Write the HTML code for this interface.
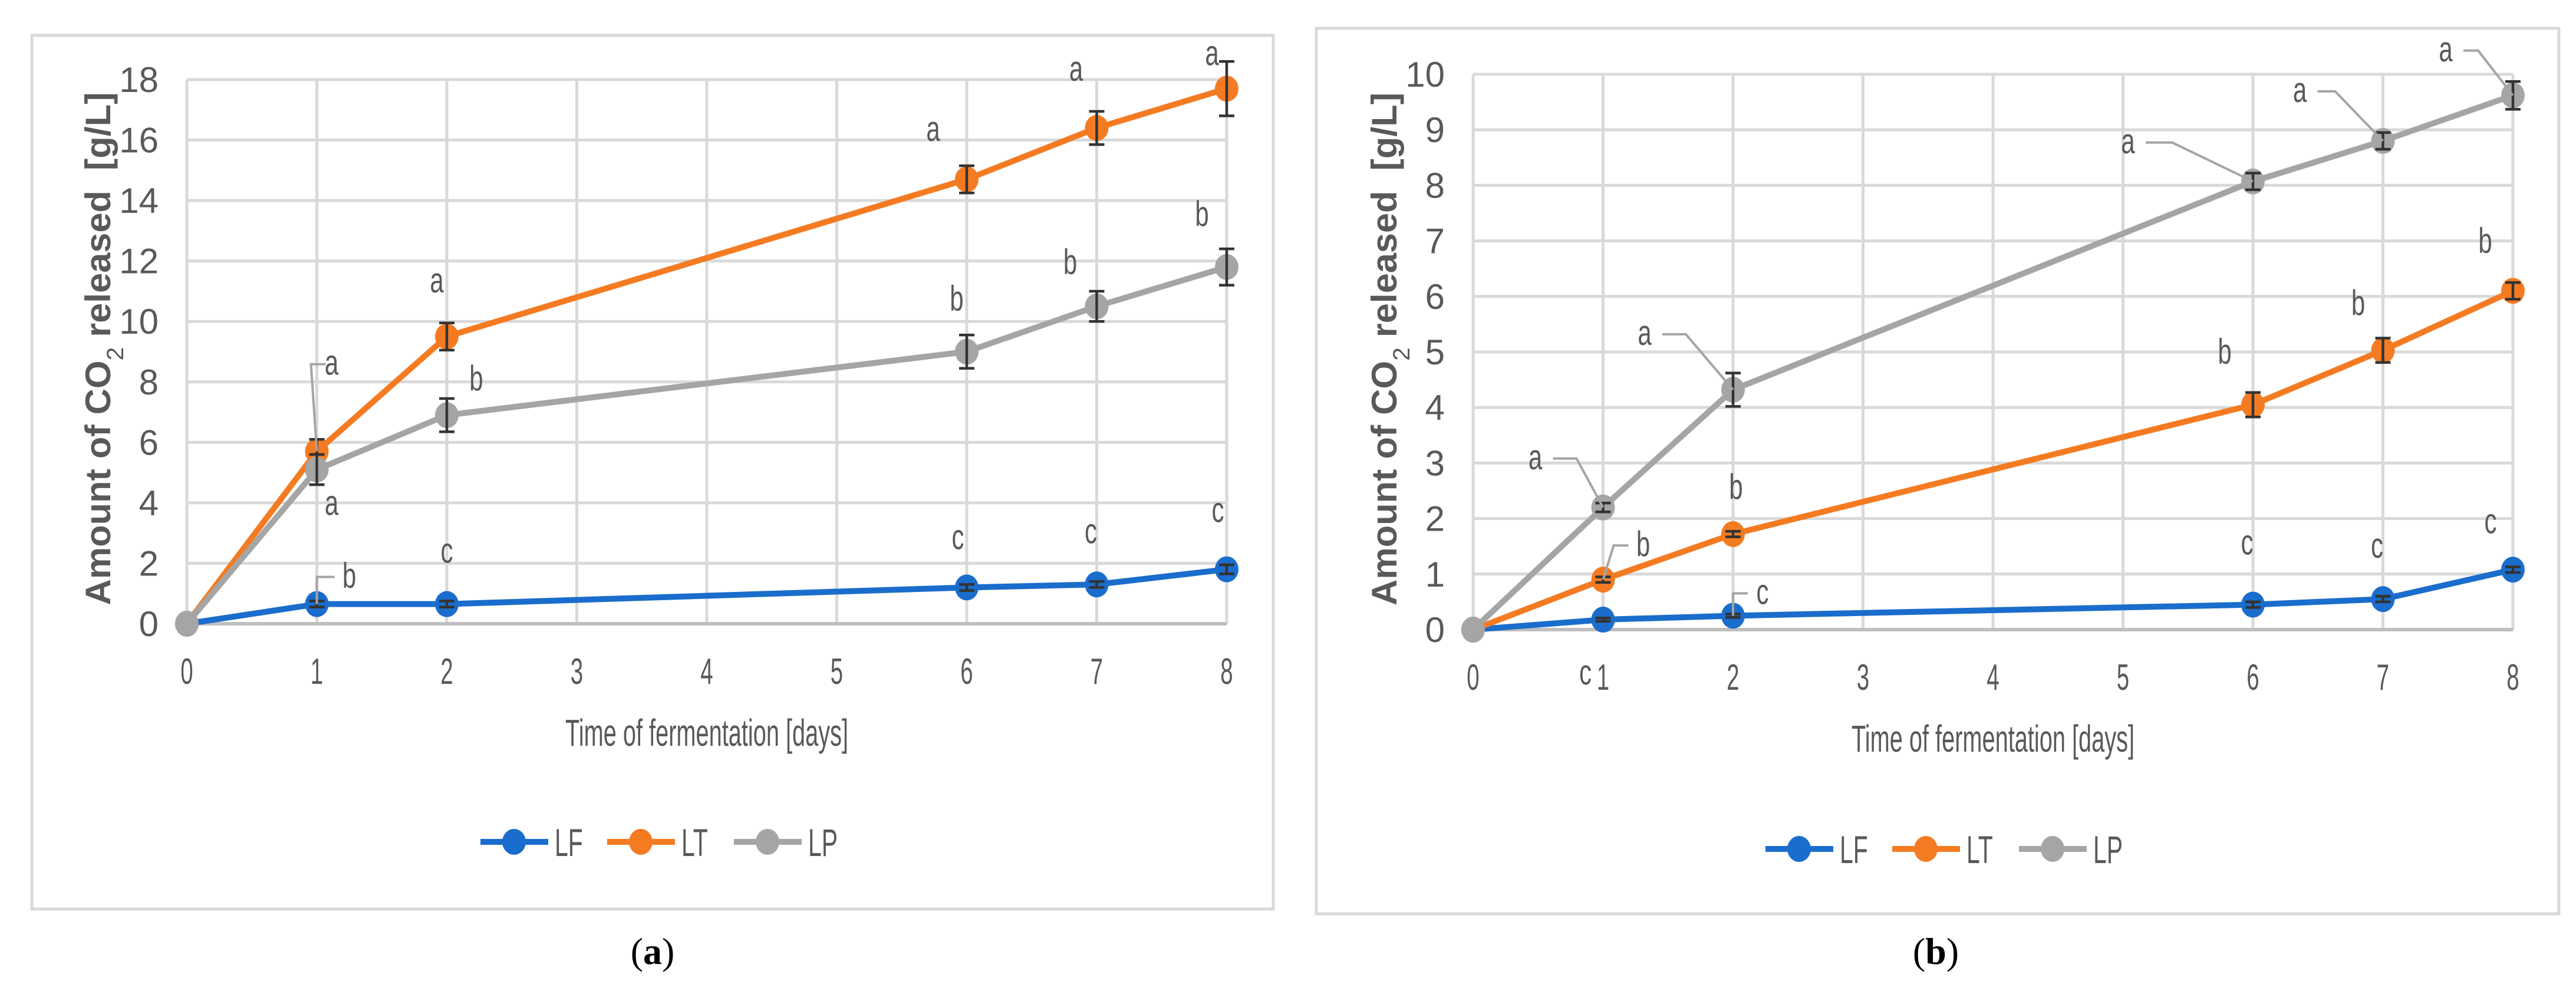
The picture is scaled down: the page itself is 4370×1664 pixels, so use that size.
<!DOCTYPE html>
<html><head><meta charset="utf-8"><style>
html,body{margin:0;padding:0;background:#fff;}
svg{display:block;}
text{font-family:"Liberation Sans",sans-serif;fill:#595959;}
</style></head><body>
<svg id="fig" width="4370" height="1664" viewBox="0 0 4370 1664" xmlns="http://www.w3.org/2000/svg">
<rect x="54" y="60" width="2106" height="1482" fill="#fff" stroke="#d9d9d9" stroke-width="5"/>
<rect x="2233" y="48" width="2108" height="1502" fill="#fff" stroke="#d9d9d9" stroke-width="5"/>
<text x="1107" y="1635" font-size="64" text-anchor="middle" style="fill:#000;font-family:'Liberation Serif',serif">(<tspan font-weight="bold">a</tspan>)</text>
<text x="3284" y="1635" font-size="64" text-anchor="middle" style="fill:#000;font-family:'Liberation Serif',serif">(<tspan font-weight="bold">b</tspan>)</text>
<g id="ga"></g>
<g id="gb"></g>
</svg>
<script>
const days = [0,1,2,6,7,8];
const xTicks = [0,1,2,3,4,5,6,7,8];
const seriesNames = ["LF","LT","LP"];
const yTicksA = [0,2,4,6,8,10,12,14,16,18];
const yTicksB = [0,1,2,3,4,5,6,7,8,9,10];
const aLF = [0,0.65,0.65,1.2,1.3,1.8];
const aLT = [0,5.7,9.5,14.7,16.4,17.7];
const aLP = [0,5.1,6.9,9.0,10.5,11.8];
const aErrLF = [0,0.1,0.1,0.1,0.1,0.15];
const aErrLT = [0,0.4,0.45,0.45,0.55,0.9];
const aErrLP = [0,0.5,0.55,0.55,0.5,0.6];
const bLF = [0,0.18,0.25,0.45,0.55,1.08];
const bLT = [0,0.9,1.72,4.05,5.03,6.1];
const bLP = [0,2.2,4.32,8.07,8.8,9.62];
const bErrLF = [0,0.03,0.03,0.05,0.05,0.05];
const bErrLT = [0,0.05,0.05,0.22,0.22,0.15];
const bErrLP = [0,0.08,0.3,0.15,0.15,0.25];
const aLettersLF = ["","b","c","c","c","c"];
const aLettersLT = ["","a","a","a","a","a"];
const aLettersLP = ["","a","b","b","b","b"];
const bLettersLF = ["","c","c","c","c","c"];
const bLettersLT = ["","b","b","b","b","b"];
const bLettersLP = ["","a","a","a","a","a"];
const colors = ["#1a6dcc","#f47b22","#a5a5a5"];
const NS = "http://www.w3.org/2000/svg";
function mk(parent, tag, attrs){const e=document.createElementNS(NS,tag);for(const k in attrs)e.setAttribute(k,attrs[k]);parent.appendChild(e);return e;}

function drawChart(g, cfg){
  const sx = v => cfg.x0 + (v/8)*(cfg.x1-cfg.x0);
  const sy = v => cfg.y0 - (v/cfg.ymax)*(cfg.y0-cfg.y1);
  cfg.yTicks.forEach(t=>{
    const l=mk(g,'line',{x1:sx(0),x2:sx(8),y1:sy(t),y2:sy(t),stroke:'#d9d9d9','stroke-width':5});
    
    
    const tx=mk(g,'text',{x:cfg.x0-48,y:sy(t)+21,'font-size':60,'text-anchor':'end'});
    tx.textContent=t;
    
    
  });
  xTicks.forEach(t=>{
    const l=mk(g,'line',{x1:sx(t),x2:sx(t),y1:sy(cfg.ymax),y2:sy(0),stroke:'#d9d9d9','stroke-width':5});
    
    
    const tx=mk(g,'text',{x:sx(t),y:cfg.y0+102,'font-size':62,'text-anchor':'middle',transform:`translate(${sx(t)},0) scale(0.62,1) translate(${-sx(t)},0)`});
    tx.textContent=t;
    
    
  });
  const ax=mk(g,'line',{x1:sx(0),x2:sx(8),y1:sy(0),y2:sy(0),stroke:'#bfbfbf','stroke-width':6});
  
  
  const xt=mk(g,'text',{x:(cfg.x0+cfg.x1)/2,y:cfg.y0+207,'font-size':64,'text-anchor':'middle',textLength:480,lengthAdjust:'spacingAndGlyphs'});
  xt.textContent='Time of fermentation [days]';
  
  
  const cy=(cfg.y0+cfg.y1)/2-5;
  const yt=mk(g,'text',{x:0,y:0,'font-size':60,'font-weight':'bold','text-anchor':'middle',transform:`translate(${cfg.x0-130},${cy}) rotate(-90)`,textLength:870,lengthAdjust:'spacingAndGlyphs'});
  yt.innerHTML='Amount of CO<tspan baseline-shift="sub" font-size="40" font-weight="normal">2</tspan> released&#160;&#160;[g/L]';
  
  
  [0,1,2].forEach(si=>{
    const vals=cfg.vals[si], errs=cfg.errs[si], letters=cfg.letters[si];
    const pts=days.map((d,i)=>sx(d)+','+sy(vals[i])).join(' ');
    const pl=mk(g,'polyline',{points:pts,fill:'none',stroke:colors[si],'stroke-width':10,'stroke-linejoin':'round'});
    
    
    days.forEach((d,i)=>{
      const c=mk(g,'ellipse',{cx:sx(d),cy:sy(vals[i]),rx:20,ry:22,fill:colors[si]});
      
      
      if(errs[i]>0){
        const eb=mk(g,'path',{d:`M${sx(d)},${sy(vals[i]+errs[i])}V${sy(vals[i]-errs[i])}M${sx(d)-13},${sy(vals[i]+errs[i])}h26M${sx(d)-13},${sy(vals[i]-errs[i])}h26`,stroke:'#333','stroke-width':4.5,fill:'none'});
        
        
      }
      if(letters[i]){
        const off=cfg.letterOff[si][i];
        const lx=sx(d)+off[0], ly=sy(vals[i])+off[1];
        const lt=mk(g,'text',{x:lx,y:ly,'font-size':60,'text-anchor':'middle',transform:`translate(${lx},0) scale(0.7,1) translate(${-lx},0)`});
        lt.textContent=letters[i];
        
        
        if(off[2]){
          const ld=mk(g,'polyline',{points:`${lx+off[2]},${ly-18} ${lx+off[2]+off[3]},${ly-18} ${sx(d)},${sy(vals[i])}`,fill:'none',stroke:'#a5a5a5','stroke-width':4});
          
          
        }
      }
    });
  });
  seriesNames.forEach((n,i)=>{
    const lx=cfg.legX+i*215;
    const ll=mk(g,'line',{x1:lx,x2:lx+115,y1:cfg.legY,y2:cfg.legY,stroke:colors[i],'stroke-width':10});
    
    
    const lc=mk(g,'ellipse',{cx:lx+57,cy:cfg.legY,rx:20,ry:22,fill:colors[i]});
    
    
    const lt=mk(g,'text',{x:lx+126,y:cfg.legY+24,'font-size':66,transform:`translate(${lx+126},0) scale(0.62,1) translate(${-(lx+126)},0)`});
    lt.textContent=n;
    
    
  });
}
drawChart(document.getElementById('ga'),{
  x0:317,x1:2081,y0:1058,y1:135,ymax:18,yTicks:yTicksA,
  vals:[aLF,aLT,aLP],errs:[aErrLF,aErrLT,aErrLP],
  letters:[aLettersLF,aLettersLT,aLettersLP],
  letterOff:[
    [[0,0],[55,-28,-25,-30],[0,-70],[-15,-65],[-10,-70],[-15,-80]],
    [[0,0],[25,-130,-10,-25],[-17,-75],[-57,-65],[-35,-80],[-25,-40]],
    [[0,0],[25,77],[50,-42],[-17,-70],[-45,-55],[-42,-70]]
  ],
  legX:815,legY:1428
});
drawChart(document.getElementById('gb'),{
  x0:2499,x1:4263,y0:1068,y1:126,ymax:10,yTicks:yTicksB,
  vals:[bLF,bLT,bLP],errs:[bErrLF,bErrLT,bErrLP],
  letters:[bLettersLF,bLettersLT,bLettersLP],
  letterOff:[
    [[0,0],[-30,110],[50,-20,-25,-25],[-10,-85],[-10,-70],[-38,-62]],
    [[0,0],[68,-40,-25,-25],[5,-60],[-48,-70],[-42,-60],[-47,-65]],
    [[0,0],[-115,-65,30,40],[-150,-76,30,40],[-212,-48,30,45],[-141,-66,30,30],[-114,-58,30,25]]
  ],
  legX:2995,legY:1440
});
</script>
</body></html>
